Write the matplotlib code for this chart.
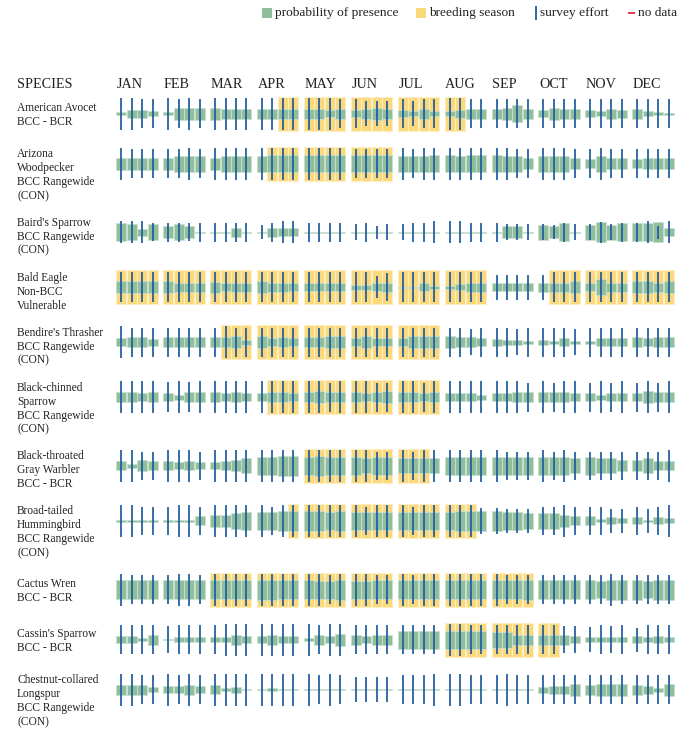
import matplotlib
matplotlib.use("Agg")
import matplotlib.pyplot as plt
from matplotlib.patches import Rectangle

# ---------------- data ----------------
months = ["JAN", "FEB", "MAR", "APR", "MAY", "JUN",
          "JUL", "AUG", "SEP", "OCT", "NOV", "DEC"]

species_labels = [
    ["American Avocet", "BCC - BCR"],
    ["Arizona", "Woodpecker", "BCC Rangewide", "(CON)"],
    ["Baird's Sparrow", "BCC Rangewide", "(CON)"],
    ["Bald Eagle", "Non-BCC", "Vulnerable"],
    ["Bendire's Thrasher", "BCC Rangewide", "(CON)"],
    ["Black-chinned", "Sparrow", "BCC Rangewide", "(CON)"],
    ["Black-throated", "Gray Warbler", "BCC - BCR"],
    ["Broad-tailed", "Hummingbird", "BCC Rangewide", "(CON)"],
    ["Cactus Wren", "BCC - BCR"],
    ["Cassin's Sparrow", "BCC - BCR"],
    ["Chestnut-collared", "Longspur", "BCC Rangewide", "(CON)"],
]

# probability of presence per week (0-10 scale), 4 weeks per month
avocet_presence = [1.5, 4, 4, 2.5, 1.5, 6, 6, 6, 6, 5, 5, 5, 5, 5, 5, 5,
                   5, 5, 3.5, 5, 3.5, 5, 6, 5, 3.5, 2.5, 5, 2.5, 2.5, 4, 5, 5,
                   5, 6, 8.5, 5, 3.5, 6, 5, 5, 3.5, 2.5, 5, 4, 5, 2.5, 1.5, 1]
arizona_presence = [6, 6, 6, 6, 6, 8, 8, 8, 6, 8, 8, 8, 8, 8.5, 8.5, 8.5,
                    8.5, 8.5, 8.5, 8.5, 8.5, 8.5, 8.5, 8.5, 8, 8, 8, 8.5, 8.5, 8, 8.5, 8.5,
                    8.5, 8, 8, 5.5, 8, 8, 8, 5.5, 4.5, 8, 5.5, 5.5, 4.5, 5.5, 5.5, 5.5]
bairds_presence = [9, 8, 3.5, 8, 6, 8, 6, 0, 0, 0, 4.5, 0, 0, 4.5, 4, 4,
                   0, 0, 0, 0, 0, 0, 0, 0, 0, 0, 0, 0, 0, 0, 0, 0,
                   0, 6, 6, 0, 7.5, 6, 9, 0, 7.5, 10, 7.5, 9, 9, 9, 10, 4]
eagle_presence = [6, 6, 6, 6, 6, 4.5, 4.5, 4.5, 5.5, 4, 4.5, 4.5, 6, 4.5, 4.5, 4,
                  4, 4, 4, 4, 2.5, 2.5, 4, 4.5, 0, 0, 4, 1.5, 1.5, 3, 4.5, 4.5,
                  4, 4, 4, 4, 4.5, 4.5, 4.5, 6, 4, 8, 4.5, 4.5, 6, 6, 4.5, 6]
thrasher_presence = [4, 5, 5, 3.5, 5, 5, 5, 5, 5, 5, 6, 2.5, 6, 4, 5, 4,
                     5, 5, 6, 6, 4, 6, 4, 4, 4, 6, 6, 6, 6, 5, 5, 4,
                     3.5, 2.5, 2.5, 1.5, 2.5, 1.5, 4, 1.5, 1.5, 4, 4, 4, 5, 4, 5, 5]
bcsparrow_presence = [5, 5, 4, 5, 4, 2.5, 5, 5, 5, 4, 5, 4, 4, 5, 5, 4,
                      5, 6, 5, 5, 5, 4, 5, 6, 5, 5, 4, 5, 4, 4, 4, 2.5,
                      4, 4, 5, 5, 5, 5, 5, 4, 4, 2.5, 4, 4, 4, 6, 5, 5]
warbler_presence = [4.5, 2, 5.5, 4.5, 4.5, 3.5, 4.5, 3.5, 3.5, 4.5, 5.5, 7.5, 9, 9, 10, 10,
                    9, 10, 9, 9, 9, 7.5, 9, 9, 7.5, 7.5, 7.5, 7.5, 9, 9, 9, 9,
                    9, 9, 9, 9, 9, 9, 9, 7.5, 9, 7.5, 7.5, 5.5, 5.5, 7.5, 4.5, 4.5]
hummer_presence = [0, 0, 0, 0, 1, 1, 1, 4.5, 6, 6, 8, 9, 9, 9, 10, 10,
                   10, 10, 9, 10, 9, 9, 9, 9, 9, 9, 9, 9, 9, 10, 10, 10,
                   10, 9, 9, 8, 8, 8, 6, 4.5, 4.5, 1.5, 3.5, 2.5, 3.5, 0, 3.5, 2.5]
wren_presence = [9.5, 9.5, 9.5, 9.5, 9.5, 9.5, 9.5, 9.5, 9.5, 9.5, 9.5, 9.5, 10, 10, 9.5, 9.5,
                 9.5, 9, 9, 10, 9, 9, 9.5, 9.5, 9.5, 9.5, 9.5, 9.5, 9.5, 9.5, 9.5, 9.5,
                 9.5, 9.5, 9.5, 10, 9.5, 9.5, 9.5, 9.5, 9.5, 8.5, 10, 10, 10, 8.5, 10, 10]
cassin_presence = [3.5, 3.5, 1.5, 5, 0.5, 2.5, 2.5, 2.5, 2.5, 2.5, 5, 3.5, 3.5, 5, 3.5, 3.5,
                   1.5, 5, 3.5, 6, 5, 3.5, 5, 5, 9, 9, 9, 9, 9, 9, 9, 9,
                   8, 8, 5, 5, 5, 5, 5, 3.5, 2.5, 2.5, 2.5, 2.5, 3.5, 2.5, 3.5, 2.5]
longspur_presence = [5, 5, 5, 2.5, 3.5, 3.5, 5, 3.5, 4.5, 1.5, 3, 0, 0, 1.5, 0, 0,
                     0, 0, 0, 0, 0, 0, 0, 0, 0, 0, 0, 0, 0, 0, 0, 0,
                     0, 0, 0, 0, 3, 4, 4, 6, 5, 6, 6, 6, 5, 4, 2, 6]

# survey effort per week (0-10 scale)
avocet_effort = [10, 10, 9, 9, 10, 9, 10, 9, 10, 10, 10, 10, 10, 10, 10, 10,
                 10, 10, 10, 9, 9, 8, 8, 8, 9, 8, 9, 9, 10, 10, 9, 9,
                 9, 9, 9, 9, 9, 9, 9, 9, 9, 9, 9, 9, 9, 9, 9, 9]
arizona_effort = [10, 9, 9, 9, 9, 9, 10, 9, 10, 10, 10, 10, 10, 10, 10, 10,
                  10, 10, 10, 10, 9, 9, 9, 9, 10, 9, 10, 10, 10, 10, 10, 10,
                  10, 10, 9, 9, 10, 10, 10, 9, 9, 10, 9, 9, 9, 9, 9, 9]
bairds_effort = [7, 7, 7, 5.5, 6, 6, 5.5, 6, 6, 6, 6, 6, 4.5, 6, 7, 7,
                 6, 6, 6, 6, 5, 6, 4, 5, 5, 6, 6, 7, 7, 7, 6, 6,
                 6, 5, 5, 5, 5, 4.5, 6, 5, 5, 6.5, 5, 6, 6, 7, 4, 7]
eagle_effort = [9.5, 9.5, 9.5, 9.5, 9.5, 9.5, 9.5, 9.5, 9.5, 9.5, 9.5, 9.5, 9.5, 9.5, 9.5, 9.5,
                9.5, 9.5, 9.5, 9.5, 9.5, 9.5, 7, 8.8, 9.5, 9.5, 9.5, 9.5, 9.5, 9.5, 9.5, 9.5,
                7.7, 7.7, 7.7, 7.7, 7.7, 9.5, 9.5, 9.5, 9.5, 9.5, 9.5, 9.5, 9.5, 9.5, 9.5, 9.5]
thrasher_effort = [10, 9, 9, 9, 9, 9, 9, 9, 9, 10, 9, 9, 9, 9, 9, 9,
                   9, 9, 9, 9, 9, 9, 9, 9, 9, 9, 9, 9, 9, 9, 8, 9,
                   9, 9, 8, 9, 9, 9, 9, 8, 9, 9, 9, 9, 9, 9, 9, 9]
bcsparrow_effort = [10, 10, 10, 10, 9.5, 10, 9.5, 10, 10, 10, 10, 10, 10, 10, 10, 10,
                    10, 10, 9, 10, 10, 10, 9, 9, 10, 10, 9, 10, 10, 10, 10, 10,
                    10, 10, 10, 9, 10, 9, 10, 10, 9, 10, 9, 10, 9, 10, 9, 10]
warbler_effort = [10, 10, 9, 9, 10, 10, 10, 9, 10, 10, 10, 10, 10, 10, 10, 10,
                  10, 10, 10, 10, 10, 10, 9, 9, 10, 9, 10, 10, 10, 10, 10, 10,
                  10, 9, 9, 9, 10, 9, 10, 9, 9, 9, 9, 9, 9, 9, 9, 10]
hummer_effort = [10, 10, 9, 9, 9, 10, 10, 9, 10, 10, 10, 10, 10, 9, 10, 10,
                 10, 10, 10, 10, 10, 9, 10, 10, 10, 9, 10, 10, 10, 10, 10, 8.3,
                 8.3, 7.5, 7.5, 7.5, 9, 9, 10, 9, 9, 9, 7.5, 7.5, 9, 7.5, 9, 10]
wren_effort = [10, 9, 9, 9, 9, 10, 10, 9, 10, 10, 10, 10, 10, 10, 10, 10,
               10, 10, 9, 10, 10, 10, 9, 9, 10, 9, 10, 10, 10, 10, 10, 10,
               10, 9, 9, 9, 9, 9, 9, 9, 9, 9, 10, 9, 9, 9, 9, 9]
cassin_effort = [9, 9, 9, 9, 8.5, 9, 9, 9, 9, 10, 10, 10, 10, 10, 10, 10,
                 10, 9, 10, 10, 9, 9, 9, 9, 9, 9, 9, 9, 10, 10, 9, 9,
                 9, 9, 9, 9, 9, 9, 8.5, 8.5, 8, 9, 8.5, 9, 7.5, 9, 9, 9]
longspur_effort = [10, 10, 9, 9, 10, 9, 10, 9, 10, 10, 10, 10, 10, 10, 10, 10,
                   10, 9, 10, 9, 8, 8, 8, 8, 9, 9, 9, 10, 10, 10, 9, 9,
                   9, 10, 9, 9, 9, 9, 9, 9, 9, 9, 9, 9, 9, 9, 9, 9]

# breeding season flags per week (1 = breeding)
avocet_breeding = [0]*14 + [1]*16 + [0]*18
arizona_breeding = [0]*13 + [1]*11 + [0]*24
bairds_breeding = [0]*48
eagle_breeding = [1]*32 + [0]*5 + [1]*11
thrasher_breeding = [0]*9 + [1]*19 + [0]*20
bcsparrow_breeding = [0]*13 + [1]*15 + [0]*20
warbler_breeding = [0]*16 + [1]*11 + [0]*21
hummer_breeding = [0]*15 + [1]*16 + [0]*17
wren_breeding = [0]*8 + [1]*28 + [0]*12
cassin_breeding = [0]*28 + [1]*10 + [0]*10
longspur_breeding = [0]*48

presence = [avocet_presence, arizona_presence, bairds_presence, eagle_presence,
            thrasher_presence, bcsparrow_presence, warbler_presence, hummer_presence,
            wren_presence, cassin_presence, longspur_presence]
effort = [avocet_effort, arizona_effort, bairds_effort, eagle_effort,
          thrasher_effort, bcsparrow_effort, warbler_effort, hummer_effort,
          wren_effort, cassin_effort, longspur_effort]
breeding = [avocet_breeding, arizona_breeding, bairds_breeding, eagle_breeding,
            thrasher_breeding, bcsparrow_breeding, warbler_breeding, hummer_breeding,
            wren_breeding, cassin_breeding, longspur_breeding]

# ---------------- style / layout ----------------
GREEN = "#90be9c"
YELLOW = "#fbd97b"
BLUE = "#1f5b9f"
RED = "#e8283c"
SERIF = ["Liberation Serif", "DejaVu Serif"]
TXT = "#222222"

W, H = 684, 731
X0, MONTH_W, WEEK_W = 121.3, 46.9, 10.45
BAR_W = 10.0
BOX_H = 34.0
PRES_MAX = 20.0
EFF_MAX = 32.0

fig = plt.figure(figsize=(W / 100, H / 100), dpi=100)
ax = fig.add_axes([0, 0, 1, 1])
ax.set_xlim(0, W)
ax.set_ylim(H, 0)
ax.axis("off")

# header
ax.text(17, 85, "SPECIES", family=SERIF, fontsize=10.2, va="center", ha="left", color=TXT)
for m, name in enumerate(months):
    ax.text(X0 - 4.3 + m * MONTH_W, 85, name, family=SERIF, fontsize=10.2,
            va="center", ha="left", color=TXT)

# rows
row_step = {2: 50.0, 3: 55.0, 4: 68.7}
yc = 113.5
for i, lab in enumerate(species_labels):
    first = yc - (5.5 if len(lab) == 2 else 9.5)
    for k, line in enumerate(lab):
        ax.text(17, first + 14 * k, line, family=SERIF, fontsize=8.3,
                va="center", ha="left", color=TXT)
    for wk in range(48):
        m, w = divmod(wk, 4)
        x = X0 + m * MONTH_W + w * WEEK_W
        if breeding[i][wk]:
            ax.add_patch(Rectangle((x - BAR_W / 2, yc - BOX_H / 2), BAR_W, BOX_H,
                                   facecolor=YELLOW, edgecolor="#fdeec4", lw=0.8, zorder=1))
        h = max(presence[i][wk] / 10 * PRES_MAX, 1.3)
        ax.add_patch(Rectangle((x - BAR_W / 2, yc - h / 2), BAR_W, h,
                               facecolor=GREEN, edgecolor="#c9e0cf", lw=0.6, zorder=2))
        e = effort[i][wk] / 10 * EFF_MAX
        ax.plot([x, x], [yc - e / 2, yc + e / 2], color=BLUE, lw=1.25,
                solid_capstyle="butt", zorder=3)
    yc += row_step[len(lab)]

# legend
ly = 13
LFS = 9.6
ax.add_patch(Rectangle((262, ly - 5), 10, 10, facecolor=GREEN, edgecolor="none"))
ax.text(275, ly, "probability of presence", family=SERIF, fontsize=LFS, va="center", ha="left", color=TXT)
ax.add_patch(Rectangle((416, ly - 5), 10, 10, facecolor=YELLOW, edgecolor="none"))
ax.text(429, ly, "breeding season", family=SERIF, fontsize=LFS, va="center", ha="left", color=TXT)
ax.plot([536, 536], [ly - 7, ly + 7], color=BLUE, lw=1.3, solid_capstyle="butt")
ax.text(540, ly, "survey effort", family=SERIF, fontsize=LFS, va="center", ha="left", color=TXT)
ax.plot([628, 635], [ly, ly], color=RED, lw=1.3, solid_capstyle="butt")
ax.text(638, ly, "no data", family=SERIF, fontsize=LFS, va="center", ha="left", color=TXT)

fig.savefig("out.png", dpi=100)
